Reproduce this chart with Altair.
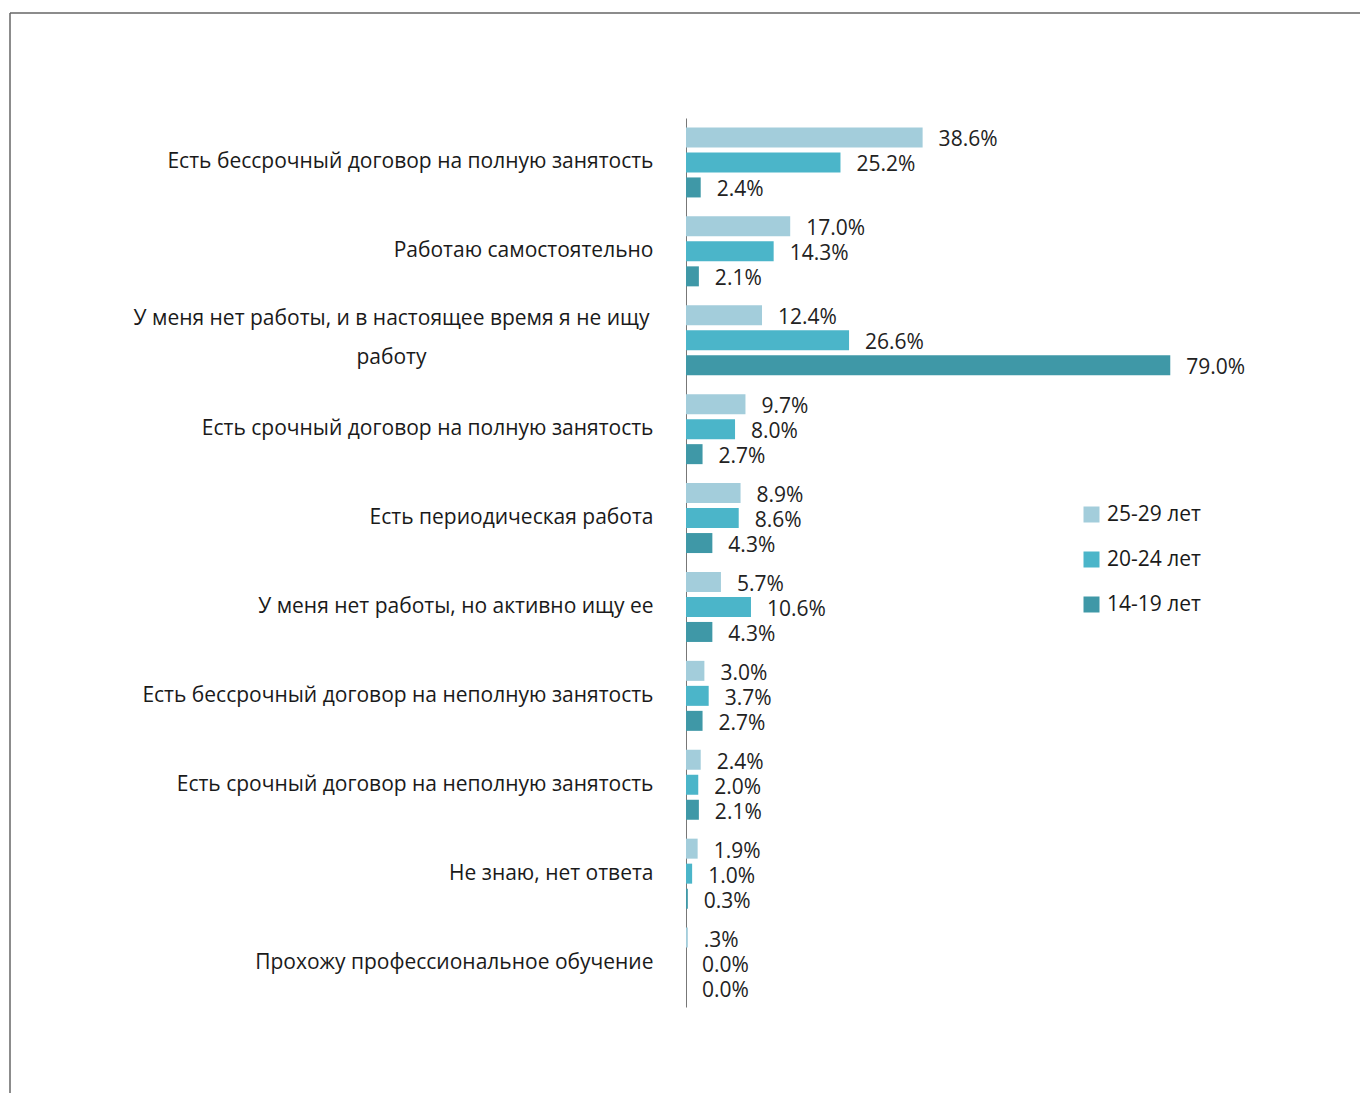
import altair as alt
import pandas as pd

categories = [
    "Есть бессрочный договор на полную занятость",
    "Работаю самостоятельно",
    "У меня нет работы, и в настоящее время я не ищу|работу",
    "Есть срочный договор на полную занятость",
    "Есть периодическая работа",
    "У меня нет работы, но активно ищу ее",
    "Есть бессрочный договор на неполную занятость",
    "Есть срочный договор на неполную занятость",
    "Не знаю, нет ответа",
    "Прохожу профессиональное обучение",
]
series = ["25-29 лет", "20-24 лет", "14-19 лет"]
v_25_29 = [38.6, 17.0, 12.4, 9.7, 8.9, 5.7, 3.0, 2.4, 1.9, 0.3]
v_20_24 = [25.2, 14.3, 26.6, 8.0, 8.6, 10.6, 3.7, 2.0, 1.0, 0.0]
v_14_19 = [2.4, 2.1, 79.0, 2.7, 4.3, 4.3, 2.7, 2.1, 0.3, 0.0]
colors = ["#a3cddb", "#4bb5c9", "#3f98a7"]

rows = []
for ser, vals in zip(series, [v_25_29, v_20_24, v_14_19]):
    for i, v in enumerate(vals):
        lab = f"{v:.1f}%"
        if ser == "25-29 лет" and i == 9:
            lab = ".3%"
        rows.append({"cat": categories[i], "series": ser, "value": v, "label": lab})
df = pd.DataFrame(rows)

W, H = 613, 889
PL, PT, PR, PB = 678, 110, 61, 86

multi = "indexof(datum.value, '|') >= 0"

y_enc = alt.Y(
    "cat:N",
    sort=categories,
    title=None,
    scale=alt.Scale(paddingInner=0.2126, paddingOuter=0.1063),
    axis=alt.Axis(
        labelExpr="split(datum.label, '|')",
        labelFont="Open Sans",
        labelFontSize=21,
        labelColor="#1a1a1a",
        labelPadding={"condition": {"test": multi, "value": 295}, "value": 33},
        labelAlign={"condition": {"test": multi, "value": "center"}, "value": "right"},
        labelOffset={"condition": {"test": multi, "value": -21}, "value": 0},
        labelLimit=700,
        labelLineHeight=39,
        ticks=False,
        domainColor="#777777",
        domainWidth=1,
        grid=False,
    ),
)
yoff = alt.YOffset(
    "series:N",
    sort=series,
    scale=alt.Scale(paddingInner=0.2, paddingOuter=0),
)
x_enc = alt.X("value:Q", scale=alt.Scale(domain=[0, 100]), axis=None)

base = alt.Chart(df)
bars = base.mark_bar().encode(
    y=y_enc,
    yOffset=yoff,
    x=x_enc,
    color=alt.Color(
        "series:N",
        sort=series,
        scale=alt.Scale(domain=series, range=colors),
        legend=alt.Legend(
            title=None,
            orient="none",
            legendX=395,
            legendY=386,
            symbolType="square",
            symbolSize=256,
            symbolStrokeWidth=0,
            symbolOpacity=1,
            labelFont="Open Sans",
            labelFontSize=21,
            labelColor="#1a1a1a",
            labelOffset=5,
            rowPadding=23,
        ),
    ),
)
texts = base.mark_text(
    align="left", baseline="middle", dx=16, dy=3, font="Open Sans", fontSize=21, color="#222222"
).encode(
    y=alt.Y("cat:N", sort=categories),
    yOffset=alt.YOffset("series:N", sort=series),
    x="value:Q",
    text="label:N",
)

frame_df = pd.DataFrame({"a": [0]})
left_line = alt.Chart(frame_df).mark_rule(color="#666666", strokeWidth=1.5).encode(
    x=alt.value(-676), y=alt.value(-105), y2=alt.value(H + PB)
)
top_line = alt.Chart(frame_df).mark_rule(color="#666666", strokeWidth=1.5).encode(
    x=alt.value(-676), x2=alt.value(W + PR), y=alt.value(-105)
)

chart = (
    alt.layer(bars, texts, left_line, top_line)
    .properties(
        width=W,
        height=H,
        autosize=alt.AutoSizeParams(type="none"),
        padding={"left": PL, "top": PT, "right": PR, "bottom": PB},
        background="white",
    )
    .configure_view(stroke=None)
)

chart.save("out.html", embed_options={"renderer": "svg", "actions": False})
